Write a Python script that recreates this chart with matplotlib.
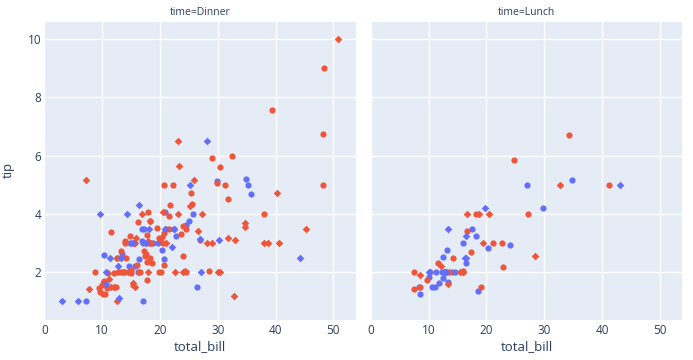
import matplotlib
matplotlib.use("Agg")
import matplotlib.pyplot as plt

plt.rcParams['font.family'] = ['Open Sans', 'DejaVu Sans']

# tips data: total_bill, tip, sex (F/M), smoker (N/Y), time (D/L)
total_bill = [
    16.99, 10.34, 21.01, 23.68, 24.59, 25.29, 8.77, 26.88, 15.04, 14.78,
    10.27, 35.26, 15.42, 18.43, 14.83, 21.58, 10.33, 16.29, 16.97, 20.65,
    17.92, 20.29, 15.77, 39.42, 19.82, 17.81, 13.37, 12.69, 21.70, 19.65,
    9.55, 18.35, 15.06, 20.69, 17.78, 24.06, 16.31, 16.93, 18.69, 31.27,
    16.04, 17.46, 13.94, 9.68, 30.40, 18.29, 22.23, 32.40, 28.55, 18.04,
    12.54, 10.29, 34.81, 9.94, 25.56, 19.49, 38.01, 26.41, 11.24, 48.27,
    20.29, 13.81, 11.02, 18.29, 17.59, 20.08, 16.45, 3.07, 20.23, 15.01,
    12.02, 17.07, 26.86, 25.28, 14.73, 10.51, 17.92, 27.20, 22.76, 17.29,
    19.44, 16.66, 10.07, 32.68, 15.98, 34.83, 13.03, 18.28, 24.71, 21.16,
    28.97, 22.49, 5.75, 16.32, 22.75, 40.17, 27.28, 12.03, 21.01, 12.46,
    11.35, 15.38, 44.30, 22.42, 20.92, 15.36, 20.49, 25.21, 18.24, 14.31,
    14.00, 7.25, 38.07, 23.95, 25.71, 17.31, 29.93, 10.65, 12.43, 24.08,
    11.69, 13.42, 14.26, 15.95, 12.48, 29.80, 8.52, 14.52, 11.38, 22.82,
    19.08, 20.27, 11.17, 12.26, 18.26, 8.51, 10.33, 14.15, 16.00, 13.16,
    17.47, 34.30, 41.19, 27.05, 16.43, 8.35, 18.64, 11.87, 9.78, 7.51,
    14.07, 13.13, 17.26, 24.55, 19.77, 29.85, 48.17, 25.00, 13.39, 16.49,
    21.50, 12.66, 16.21, 13.81, 17.51, 24.52, 20.76, 31.71, 10.59, 10.63,
    50.81, 15.81, 7.25, 31.85, 16.82, 32.90, 17.89, 14.48, 9.60, 34.63,
    34.65, 23.33, 45.35, 23.17, 40.55, 20.69, 20.90, 30.46, 18.15, 23.10,
    15.69, 19.81, 28.44, 15.48, 16.58, 7.56, 10.34, 43.11, 13.00, 13.51,
    18.71, 12.74, 13.00, 16.40, 20.53, 16.47, 26.59, 38.73, 24.27, 12.76,
    30.06, 25.89, 48.33, 13.27, 28.17, 12.90, 28.15, 11.59, 7.74, 30.14,
    12.16, 13.42, 8.58, 15.98, 13.42, 16.27, 10.09, 20.45, 13.28, 22.12,
    24.01, 15.69, 11.61, 10.77, 15.53, 10.07, 12.60, 32.83, 35.83, 29.03,
    27.18, 22.67, 17.82, 18.78,
]
tip = [
    1.01, 1.66, 3.50, 3.31, 3.61, 4.71, 2.00, 3.12, 1.96, 3.23,
    1.71, 5.00, 1.57, 3.00, 3.02, 3.92, 1.67, 3.71, 3.50, 3.35,
    4.08, 2.75, 2.23, 7.58, 3.18, 2.34, 2.00, 2.00, 4.30, 3.00,
    1.45, 2.50, 3.00, 2.45, 3.27, 3.60, 2.00, 3.07, 2.31, 5.00,
    2.24, 2.54, 3.06, 1.32, 5.60, 3.00, 5.00, 6.00, 2.05, 3.00,
    2.50, 2.60, 5.20, 1.56, 4.34, 3.51, 3.00, 1.50, 1.76, 6.73,
    3.21, 2.00, 1.98, 3.76, 2.64, 3.15, 2.47, 1.00, 2.01, 2.09,
    1.97, 3.00, 3.14, 5.00, 2.20, 1.25, 3.08, 4.00, 3.00, 2.71,
    3.00, 3.40, 1.83, 5.00, 2.03, 5.17, 2.00, 4.00, 5.85, 3.00,
    3.00, 3.50, 1.00, 4.30, 3.25, 4.73, 4.00, 1.50, 3.00, 1.50,
    2.50, 3.00, 2.50, 3.48, 4.08, 1.64, 4.06, 4.29, 3.76, 4.00,
    3.00, 1.00, 4.00, 2.55, 4.00, 3.50, 5.07, 1.50, 1.80, 2.92,
    2.31, 1.68, 2.50, 2.00, 2.52, 4.20, 1.48, 2.00, 2.00, 2.18,
    1.50, 2.83, 1.50, 2.00, 3.25, 1.25, 2.00, 2.00, 2.00, 2.75,
    3.50, 6.70, 5.00, 5.00, 2.30, 1.50, 1.36, 1.63, 1.73, 2.00,
    2.50, 2.00, 2.74, 2.00, 2.00, 5.14, 5.00, 3.75, 2.61, 2.00,
    3.50, 2.50, 2.00, 2.00, 3.00, 3.48, 2.24, 4.50, 1.61, 2.00,
    10.00, 3.16, 5.15, 3.18, 4.00, 3.11, 2.00, 2.00, 4.00, 3.55,
    3.68, 5.65, 3.50, 6.50, 3.00, 5.00, 3.50, 2.00, 3.50, 4.00,
    1.50, 4.19, 2.56, 2.02, 4.00, 1.44, 2.00, 5.00, 2.00, 2.00,
    4.00, 2.01, 2.00, 2.50, 4.00, 3.23, 3.41, 3.00, 2.03, 2.23,
    2.00, 5.16, 9.00, 2.50, 6.50, 1.10, 3.00, 1.50, 1.44, 3.09,
    2.20, 3.48, 1.92, 3.00, 1.58, 2.50, 2.00, 3.00, 2.72, 2.88,
    2.00, 3.00, 3.39, 1.47, 3.00, 1.25, 1.00, 1.17, 4.67, 5.92,
    2.00, 2.00, 1.75, 3.00,
]
sex = ("FMMMFMMMMM" "MFMMFMFMFM" "MFFMMMMMMF" "MMFFMMMFMM" "MMMMMMMMMM"
       "MFFMMMMFMM" "MMMMMMFFMM" "MFFFFMMMMM" "MMFMMFMMMM" "MMFFFMMMMM"
       "FFFFFMMMMF" "MFMMFFMFFF" "MFMMFFMFFM" "MFFFFFFFMF" "FMMFFFFFMM"
       "MMMMMFMFFM" "MMFMFMMMFF" "MMMMMMMMFM" "MMMMMMFMFM" "MFMMMMMFFM"
       "MFFFMFMMMF" "MMMFFFMMMF" "MFMFMFFMMF" "MMMMMMMMFM" "FMMF")
smoker = ("NNNNNNNNNN" "NNNNNNNNNN" "NNNNNNNNNN" "NNNNNNNNNN" "NNNNNNNNNN"
          "NNNNNNYNYN" "YYYYNNNYNY" "NNYYNNYNNN" "YNNYNNNNNN" "YNYYNYYYYN"
          "YYYYNYYYNY" "NNNNNNNNNN" "NNNNNNNNNN" "NNNNNNNNYN" "NNNNNNNNNN"
          "NNNNNNNNNN" "NNNNYNNNYY" "YYYYYYYYYY" "YYYYYNYYYY" "YYYYYNYYYY"
          "YYYYYYYYYY" "YYNYYYYYYY" "YYYNYYYNNY" "YYNNYNYYNN" "YYNN")
time = ("D" * 77 + "L" * 13 + "D" * 27 + "L" * 33 + "D" * 41 + "L" * 15
        + "D" * 14 + "L" * 7 + "D" * 17)

panels = [("D", "time=Dinner"), ("L", "time=Lunch")]
# trace order as plotly draws them
groups = [("F", "N"), ("M", "N"), ("M", "Y"), ("F", "Y")]
colors = {"F": "#636efa", "M": "#EF553B"}
markers = {"N": "o", "Y": "D"}

text_c = "#2a3f5f"
fig = plt.figure(figsize=(6.93, 3.6), dpi=100)
lefts = [0.0639, 0.5349]
width = 0.4497

for i, (tcode, title) in enumerate(panels):
    ax = fig.add_axes([lefts[i], 0.1111, width, 0.8286])
    ax.set_facecolor("#E5ECF6")
    for s in ax.spines.values():
        s.set_visible(False)
    for sx, sm in groups:
        xs = [total_bill[k] for k in range(len(tip))
              if sex[k] == sx and smoker[k] == sm and time[k] == tcode]
        ys = [tip[k] for k in range(len(tip))
              if sex[k] == sx and smoker[k] == sm and time[k] == tcode]
        size = 20 if sm == "N" else 15
        ax.scatter(xs, ys, s=size, c=colors[sx], marker=markers[sm],
                   linewidths=0, zorder=3)
    ax.set_xlim(0.2, 53.9)
    ax.set_ylim(0.36, 10.6)
    ax.set_xticks([0, 10, 20, 30, 40, 50])
    ax.set_yticks([2, 4, 6, 8, 10])
    ax.grid(True, color="white", linewidth=1.0, zorder=0)
    ax.set_axisbelow(True)
    ax.tick_params(length=0, labelsize=8.5, labelcolor=text_c)
    ax.tick_params(axis="x", pad=3)
    ax.tick_params(axis="y", pad=2)
    ax.set_title(title, fontsize=7.5, color=text_c, pad=5)
    fig.text(lefts[i] + width / 2, 0.036, "total_bill", fontsize=9.5,
             color=text_c, ha="center", va="center")
    if i > 0:
        ax.tick_params(labelleft=False)

fig.text(0.012, 0.527, "tip", fontsize=9.5, color=text_c, rotation=90,
         ha="center", va="center")

fig.savefig("out.png", dpi=100)
